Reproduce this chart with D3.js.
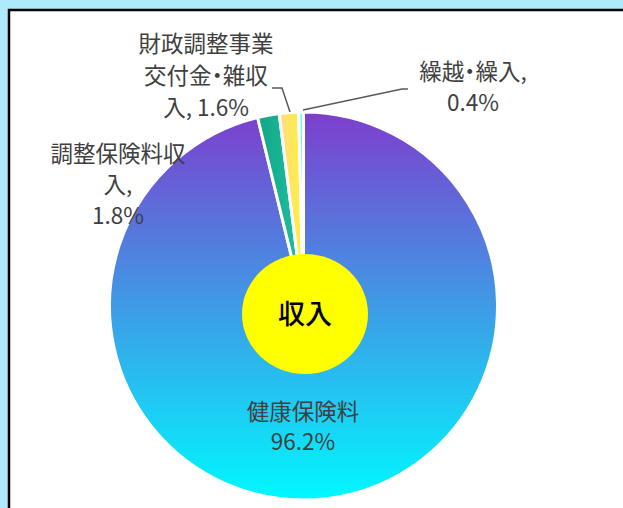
<!DOCTYPE html>
<html><head><meta charset="utf-8">
<script src="https://cdn.jsdelivr.net/npm/d3@7/dist/d3.min.js"></script>
<style>html,body{margin:0;padding:0;background:#aeeafc;}svg{display:block;} .lbl{font-feature-settings:"halt";}</style>
</head><body>
<script>
const categories = ["健康保険料", "調整保険料収入", "財政調整事業交付金・雑収入", "繰越・繰入"];
const values = [96.2, 1.8, 1.6, 0.4];
const labelLines = [
  ["健康保険料", "96.2%"],
  ["調整保険料収", "入,", "1.8%"],
  ["財政調整事業", "交付金・雑収", "入, 1.6%"],
  ["繰越・繰入,", "0.4%"]
];
const centerTitle = "収入";

const W = 623, H = 508;
const svg = d3.select("body").append("svg").attr("width", W).attr("height", H);
const defs = svg.append("defs");

// panel
svg.append("rect").attr("x", 9).attr("y", 10).attr("width", W + 20).attr("height", H + 20)
  .attr("fill", "#fff").attr("stroke", "#000").attr("stroke-width", 2.5);

const cx = 303.5, cy = 306, R = 194;

const g0 = defs.append("linearGradient").attr("id", "g0").attr("gradientUnits", "userSpaceOnUse")
  .attr("x1", 0).attr("y1", -R).attr("x2", 0).attr("y2", R);
g0.append("stop").attr("offset", 0).attr("stop-color", "#7d3ecd");
g0.append("stop").attr("offset", 1).attr("stop-color", "#00f8ff");

function hgrad(id, c1, c2) {
  const g = defs.append("linearGradient").attr("id", id).attr("x1", 0).attr("y1", 0).attr("x2", 1).attr("y2", 0);
  g.append("stop").attr("offset", 0).attr("stop-color", c1);
  g.append("stop").attr("offset", 1).attr("stop-color", c2);
}
hgrad("g1", "#12a684", "#1fc1a4");
hgrad("g2", "#ffdc84", "#fff13a");
hgrad("g3", "#c8fcff", "#30f2fc");
const fills = ["url(#g0)", "url(#g1)", "url(#g2)", "url(#g3)"];

const pie = d3.pie().sort(null).value(d => d);
const arcs = pie(values);
const arc = d3.arc().innerRadius(0).outerRadius(R);

const gp = svg.append("g").attr("transform", `translate(${cx},${cy})`);
gp.selectAll("path").data(arcs).join("path")
  .attr("d", arc)
  .attr("fill", (d, i) => fills[i])
  .attr("stroke", "#fff").attr("stroke-width", 3).attr("stroke-linejoin", "round");

// center ellipse
svg.append("ellipse").attr("cx", 305).attr("cy", 314).attr("rx", 63).attr("ry", 60).attr("fill", "#ffff00");
svg.append("text").attr("x", 305).attr("y", 324).attr("text-anchor", "middle")
  .attr("font-family", "'Noto Sans CJK JP'").attr("font-size", 27).attr("font-weight", 500)
  .attr("fill", "#000").text(centerTitle);

// leader lines
const lineData = [
  [[290, 112], [282, 88], [272, 88]],
  [[303, 110], [402, 89], [408, 89]]
];
svg.selectAll("path.leader").data(lineData).join("path").attr("class", "leader")
  .attr("d", d3.line()).attr("fill", "none").attr("stroke", "#595959").attr("stroke-width", 1.5);

// labels
const labelPos = [
  {x: 303, y: 410, dy: 30},
  {x: 118, y: 152, dy: 31},
  {x: 206, y: 42, dy: 32},
  {x: 473, y: 70, dy: 31}
];
labelLines.forEach((lines, i) => {
  const p = labelPos[i];
  const t = svg.append("text").attr("class", "lbl").attr("text-anchor", "middle")
    .attr("font-family", "'Noto Sans CJK JP'").attr("font-size", 22.5).attr("fill", "#404040");
  lines.forEach((s, j) => {
    t.append("tspan").attr("x", p.x).attr("y", p.y + j * p.dy).attr("dominant-baseline", "central").text(s);
  });
});
</script>
</body></html>
